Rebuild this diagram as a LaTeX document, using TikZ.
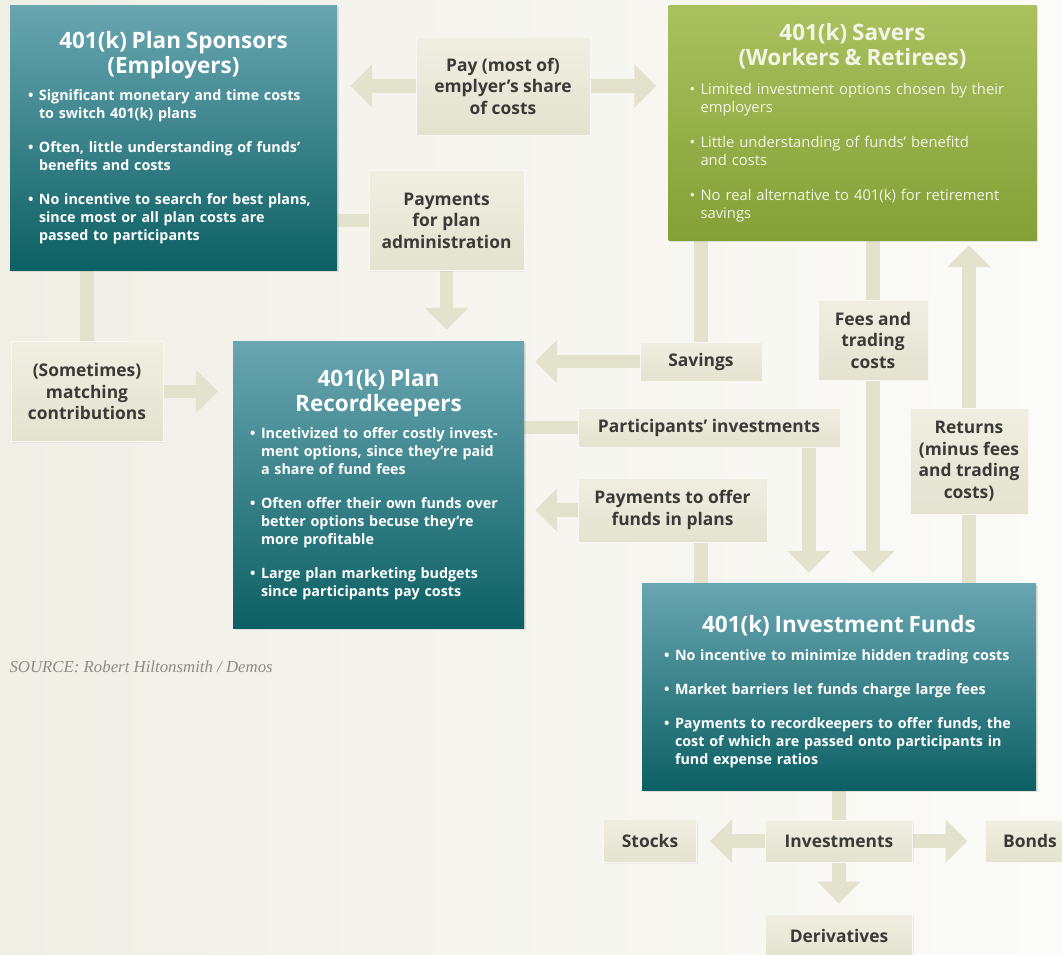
\documentclass[tikz,border=0pt]{standalone}
\usepackage{fontspec}
\setmainfont{Open Sans}
\newfontfamily\srcfont{Liberation Serif}
\usepackage{tikz}
\usetikzlibrary{arrows.meta,calc,shadows}
\definecolor{tealtop}{HTML}{69A6B2}
\definecolor{tealbot}{HTML}{0C6064}
\definecolor{greentop}{HTML}{AAC15F}
\definecolor{greenbot}{HTML}{84A036}
\definecolor{pipec}{HTML}{E3E2CD}
\definecolor{tagtop}{HTML}{EFEEE2}
\definecolor{tagbot}{HTML}{E4E3D0}
\definecolor{tagtext}{HTML}{3A3A36}
\definecolor{bgleft}{HTML}{F0EFE6}
\definecolor{bgright}{HTML}{FBFBF8}
\definecolor{srcgray}{HTML}{8C8B86}
\pgfdeclarelayer{background}
\pgfsetlayers{background,main}
\def\TipW{42pt}
\def\TipL{22pt}
\newcommand\boxtitle[1]{{\centering\bfseries\fontsize{22.5}{25}\selectfont #1\par}}
\newcommand\bitem[2][16pt]{\par\vspace{#1}\hangindent=11pt\hangafter=1\noindent
	\makebox[11pt][l]{\textbullet}{\let\\\newline #2}\par}

\begin{document}
\begin{tikzpicture}[x=1pt,y=-1pt,
	mainbox/.style={text=white,inner xsep=18pt,inner ysep=0pt,align=left,
		font=\bfseries\fontsize{14.3}{18}\selectfont,
		drop shadow={opacity=.2,shadow xshift=1.5pt,shadow yshift=-1.5pt}},
	tealbox/.style={mainbox,top color=tealtop,bottom color=tealbot},
	greenbox/.style={mainbox,top color=greentop,bottom color=greenbot,
		text=white!85!greentop,font=\fontsize{14.8}{17.5}\selectfont},
	tag/.style={top color=tagtop,bottom color=tagbot,draw=white!55!tagtop,line width=1pt,
		text=tagtext,font=\bfseries\fontsize{17.4}{21.5}\selectfont,align=center,inner sep=0pt,
		drop shadow={opacity=.1,shadow xshift=1pt,shadow yshift=-1pt}},
	pipe/.style={draw=pipec,line width=13.5pt},
	pipearrow/.style={pipe,-{Triangle[width=\TipW,length=\TipL]}}]
	\useasboundingbox (0,0) rectangle (1062,954);
	% main boxes
	\node[tealbox,text width=291pt,minimum height=265pt] (spons) at (173.5,137.5) {%
		\boxtitle{401(k) Plan Sponsors\\(Employers)}
		\bitem[9pt]{Significant monetary and time costs\\to switch 401(k) plans}
		\bitem{Often, little understanding of funds'\\benefits and costs}
		\bitem{No incentive to search for best plans,\\since most or all plan costs are\\passed to participants}};
	\node[greenbox,inner xsep=21pt,text width=326pt,minimum height=235pt] (savers) at (852.5,122.5) {%
		\boxtitle{401(k) Savers\\(Workers \& Retirees)}
		\bitem[12pt]{Limited investment options chosen by their\\employers}
		\bitem[18pt]{Little understanding of funds' benefitd\\and costs}
		\bitem[18pt]{No real alternative to 401(k) for retirement\\savings}};
	\node[tealbox,inner xsep=17pt,text width=257pt,minimum height=287pt] (rk) at (378.5,484.5) {%
		\boxtitle{401(k) Plan\\Recordkeepers}
		\bitem[9pt]{Incetivized to offer costly invest-\\ment options, since they're paid\\a share of fund fees}
		\bitem{Often offer their own funds over\\better options becuse they're\\more profitable}
		\bitem{Large plan marketing budgets\\since participants pay costs}};
	\node[tealbox,inner xsep=22pt,text width=350pt,minimum height=207pt] (funds) at (839,686.5) {%
		\boxtitle{401(k) Investment Funds}
		\bitem[10pt]{No incentive to minimize hidden trading costs}
		\bitem{Market barriers let funds charge large fees}
		\bitem{Payments to recordkeepers to offer funds, the\\cost of which are passed onto participants in\\fund expense ratios}
		\vspace{-11pt}};
	% flow labels
	\node[tag,minimum width=174pt,minimum height=98pt] (pay) at (503,86) {Pay (most of)\\emplyer's share\\of costs};
	\node[tag,minimum width=155pt,minimum height=100pt] (padm) at (446.5,220.5) {Payments\\for plan\\administration};
	\node[tag,minimum width=152pt,minimum height=100pt] (match) at (87,391.5) {(Sometimes)\\matching\\contributions};
	\node[tag,minimum width=122pt,minimum height=39pt] (sav) at (701,361.5) {Savings};
	\node[tag,minimum width=110pt,minimum height=80pt] (fees) at (873,340) {Fees and\\trading\\costs};
	\node[tag,minimum width=262pt,minimum height=39pt] (pinv) at (709,427.5) {Participants' investments};
	\node[tag,minimum width=189pt,minimum height=64pt] (poff) at (672.5,510) {Payments to offer\\funds in plans};
	\node[tag,minimum width=118pt,minimum height=106pt] (ret) at (969,461) {Returns\\(minus fees\\and trading\\costs)};
	\node[tag,minimum width=147pt,minimum height=42pt] (inv) at (839,841) {Investments};
	\node[tag,minimum width=93pt,minimum height=43pt] (stk) at (650,841) {Stocks};
	\node[tag,minimum width=90pt,minimum height=42pt] (bnd) at (1030,841) {Bonds};
	\node[tag,minimum width=147pt,minimum height=44pt] (der) at (839,936) {Derivatives};
	\coordinate (pinvx) at (809,447);
	\node[anchor=west,text=srcgray,font=\srcfont\itshape\fontsize{16.8}{18}\selectfont] (src) at (6,667)
		{SOURCE: Robert Hiltonsmith / Demos};
	% connectors
	\begin{pgfonlayer}{background}
		\fill[left color=bgleft,right color=bgright] (0,0) rectangle (1062,954);
		\draw[pipe,{Triangle[width=\TipW,length=\TipL]}-{Triangle[width=\TipW,length=\TipL]},
			shorten <=13pt,shorten >=12pt] (spons.east |- pay.center) -- (savers.west |- pay.center);
		\draw[pipe] (spons.east |- padm.center) -- (padm.west);
		\draw[pipearrow,shorten >=11pt] (padm.south) -- (rk.north -| padm.south);
		\draw[pipe] (spons.south -| match.north) -- (match.north);
		\draw[pipearrow,shorten >=15pt] (match.east) -- (rk.west |- match.east);
		\draw[pipe] (savers.south -| sav.north) -- (sav.north);
		\draw[pipearrow,shorten >=11pt] (sav.west) -- (rk.east |- sav.west);
		\draw[pipe] (savers.south -| fees.north) -- (fees.north);
		\draw[pipearrow,shorten >=10pt] (fees.south) -- (funds.north -| fees.south);
		\draw[pipe] (rk.east |- pinv.west) -- (pinv.west);
		\draw[pipearrow,shorten >=10pt] (pinvx) -- (funds.north -| pinvx);
		\draw[pipearrow,shorten >=11pt] (poff.west) -- (rk.east |- poff.west);
		\draw[pipe] (funds.north -| sav.south) -- (poff.south -| sav.south);
		\draw[pipe] (funds.north -| ret.south) -- (ret.south);
		\draw[pipearrow,shorten >=5pt] (ret.north) -- (savers.south -| ret.north);
		\draw[pipe] (funds.south -| inv.north) -- (inv.north);
		\draw[pipearrow,shorten >=13pt] (inv.west) -- (stk.east);
		\draw[pipearrow,shorten >=17pt] (inv.east) -- (bnd.west);
		\draw[pipearrow,shorten >=10pt] (inv.south) -- (der.north);
	\end{pgfonlayer}
\end{tikzpicture}
\end{document}
